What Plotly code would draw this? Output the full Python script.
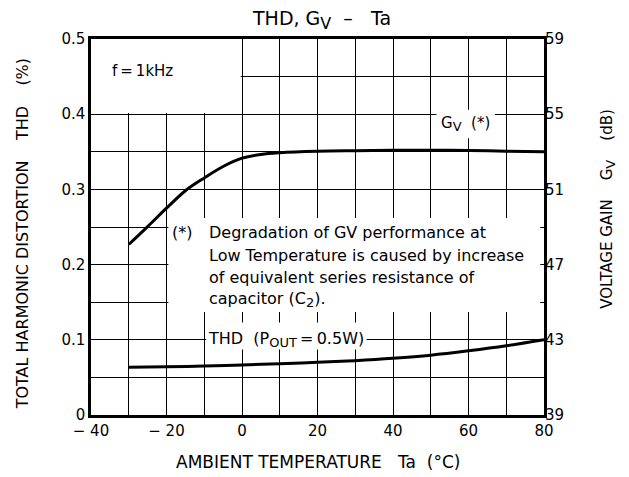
import plotly.graph_objects as go

# ---- data ----
ta_gv = [-30, -25, -20, -15, -10, -5, 0, 5, 10, 20, 30, 40, 50, 60, 70, 80]
gv_db = [48.07, 49.02, 50.0, 50.93, 51.61, 52.22, 52.66, 52.86, 52.95, 53.03, 53.06, 53.08, 53.08, 53.07, 53.03, 53.0]

ta_thd = [-30, -20, -10, 0, 10, 20, 30, 40, 50, 60, 70, 80]
thd_pct = [0.0634, 0.0642, 0.065, 0.0665, 0.0682, 0.070, 0.0723, 0.0754, 0.0795, 0.0853, 0.092, 0.100]

x_tickvals = [-40, -20, 0, 20, 40, 60, 80]
x_ticktext = ["\u2212 40", "\u2212 20", "0", "20", "40", "60", "80"]
y_tickvals = [0, 0.1, 0.2, 0.3, 0.4, 0.5]
y_ticktext = ["0", "0.1", "0.2", "0.3", "0.4", "0.5"]
y2_tickvals = [39, 43, 47, 51, 55, 59]
y2_ticktext = ["39", "43", "47", "51", "55", "59"]

note_lines = [
    "Degradation of GV performance at",
    "Low Temperature is caused by increase",
    "of equivalent series resistance of",
    "capacitor (C<sub><span style='font-size:13px'>2</span></sub>).",
]

FONT = "DejaVu Sans"
NB = "\u00a0"


def sub(t, size=12):
    return "<sub><span style='font-size:%dpx'>%s</span></sub>" % (size, t)


fig = go.Figure()
fig.add_trace(go.Scatter(x=ta_thd, y=thd_pct, mode="lines", line=dict(color="black", width=3, shape="spline"),
                         showlegend=False, hoverinfo="skip"))
fig.add_trace(go.Scatter(x=ta_gv, y=gv_db, mode="lines", yaxis="y2",
                         line=dict(color="black", width=3, shape="spline"),
                         showlegend=False, hoverinfo="skip"))

axis_common = dict(showline=True, linecolor="black", linewidth=2.5, mirror=True,
                   showgrid=True, gridcolor="black", gridwidth=1, zeroline=False,
                   ticks="", tickfont=dict(family=FONT, size=15, color="black"))

# page has an 8px body margin: figure is 621x469 so that it fits the 629x477 window
fig.update_layout(
    width=621, height=469, autosize=False,
    margin=dict(l=83, r=85, t=31, b=62),
    paper_bgcolor="white", plot_bgcolor="white",
    font=dict(family=FONT, color="black"),
    xaxis=dict(range=[-40, 80], tickvals=x_tickvals, ticktext=x_ticktext,
               minor=dict(tick0=-40, dtick=10, showgrid=True, gridcolor="black", gridwidth=1, ticks=""),
               **axis_common),
    yaxis=dict(range=[0, 0.5], tickvals=y_tickvals, ticktext=y_ticktext,
               minor=dict(tick0=0, dtick=0.05, showgrid=True, gridcolor="black", gridwidth=1, ticks=""),
               **axis_common),
    yaxis2=dict(range=[39, 59], overlaying="y", side="right", tickvals=y2_tickvals, ticktext=y2_ticktext,
                showgrid=False, showline=False, zeroline=False, ticks="",
                tickfont=dict(family=FONT, size=15, color="black")),
)

# white gaps in the grid
gaps = [
    (-40, -0.35, 0.4015, 0.5),
    (51.5, 67, 0.368, 0.406),
    (-19.5, 79, 0.137, 0.262),
    (-9.5, 33, 0.087, 0.123),
]
for x0, x1, y0, y1 in gaps:
    fig.add_shape(type="rect", xref="x", yref="y", x0=x0, x1=x1, y0=y0, y1=y1,
                  fillcolor="white", line=dict(width=0), layer="between")

ann = []
ann.append(dict(text="THD, G" + sub("V", 16) + NB * 2 + "\u2013" + NB * 3 + "Ta", xref="paper", yref="paper",
                x=0.508, y=1.051, xanchor="center", yanchor="middle", showarrow=False,
                font=dict(family=FONT, size=19, color="black")))
ann.append(dict(text="TOTAL HARMONIC DISTORTION" + NB * 4 + "THD" + NB * 4 + "(%)", xref="paper", yref="paper",
                x=-0.152, y=0.481, xanchor="center", yanchor="middle", textangle=-90, showarrow=False,
                font=dict(family=FONT, size=16, color="black")))
ann.append(dict(text="VOLTAGE GAIN" + NB * 4 + "G" + sub("V", 13) + NB * 4 + "(dB)", xref="paper", yref="paper",
                x=1.141, y=0.548, xanchor="center", yanchor="middle", textangle=-90, showarrow=False,
                font=dict(family=FONT, size=15, color="black")))
ann.append(dict(text="AMBIENT TEMPERATURE" + NB * 3 + "Ta" + NB * 2 + "(\u00b0C)", xref="paper", yref="paper",
                x=0.501, y=-0.125, xanchor="center", yanchor="middle", showarrow=False,
                font=dict(family=FONT, size=17, color="black")))
ann.append(dict(text="f\u2009=\u20091kHz", xref="x", yref="y", x=-35, y=0.457, xanchor="left", yanchor="middle",
                showarrow=False, font=dict(family=FONT, size=15, color="black")))
ann.append(dict(text="G" + sub("V", 13) + NB * 2 + "(*)", xref="x", yref="y", x=59.1, y=0.3876,
                xanchor="center", yanchor="middle", showarrow=False, font=dict(family=FONT, size=15, color="black")))
ann.append(dict(text="THD" + NB * 2 + "(P" + sub("OUT", 13) + "\u2009=\u20090.5W)", xref="x", yref="y", x=-9.5, y=0.1,
                xanchor="left", yanchor="middle", showarrow=False, font=dict(family=FONT, size=16, color="black")))
ann.append(dict(text="(*)", xref="x", yref="y", x=-19.2, y=0.2427, xanchor="left", yanchor="middle",
                showarrow=False, font=dict(family=FONT, size=16, color="black")))
line_y = [0.2427, 0.212, 0.1828, 0.1536]
for t, yv in zip(note_lines, line_y):
    ann.append(dict(text=t, xref="x", yref="y", x=-9.3, y=yv, xanchor="left", yanchor="middle",
                    showarrow=False, font=dict(family=FONT, size=16, color="black")))
fig.update_layout(annotations=ann)

fig.write_html("out.html")
